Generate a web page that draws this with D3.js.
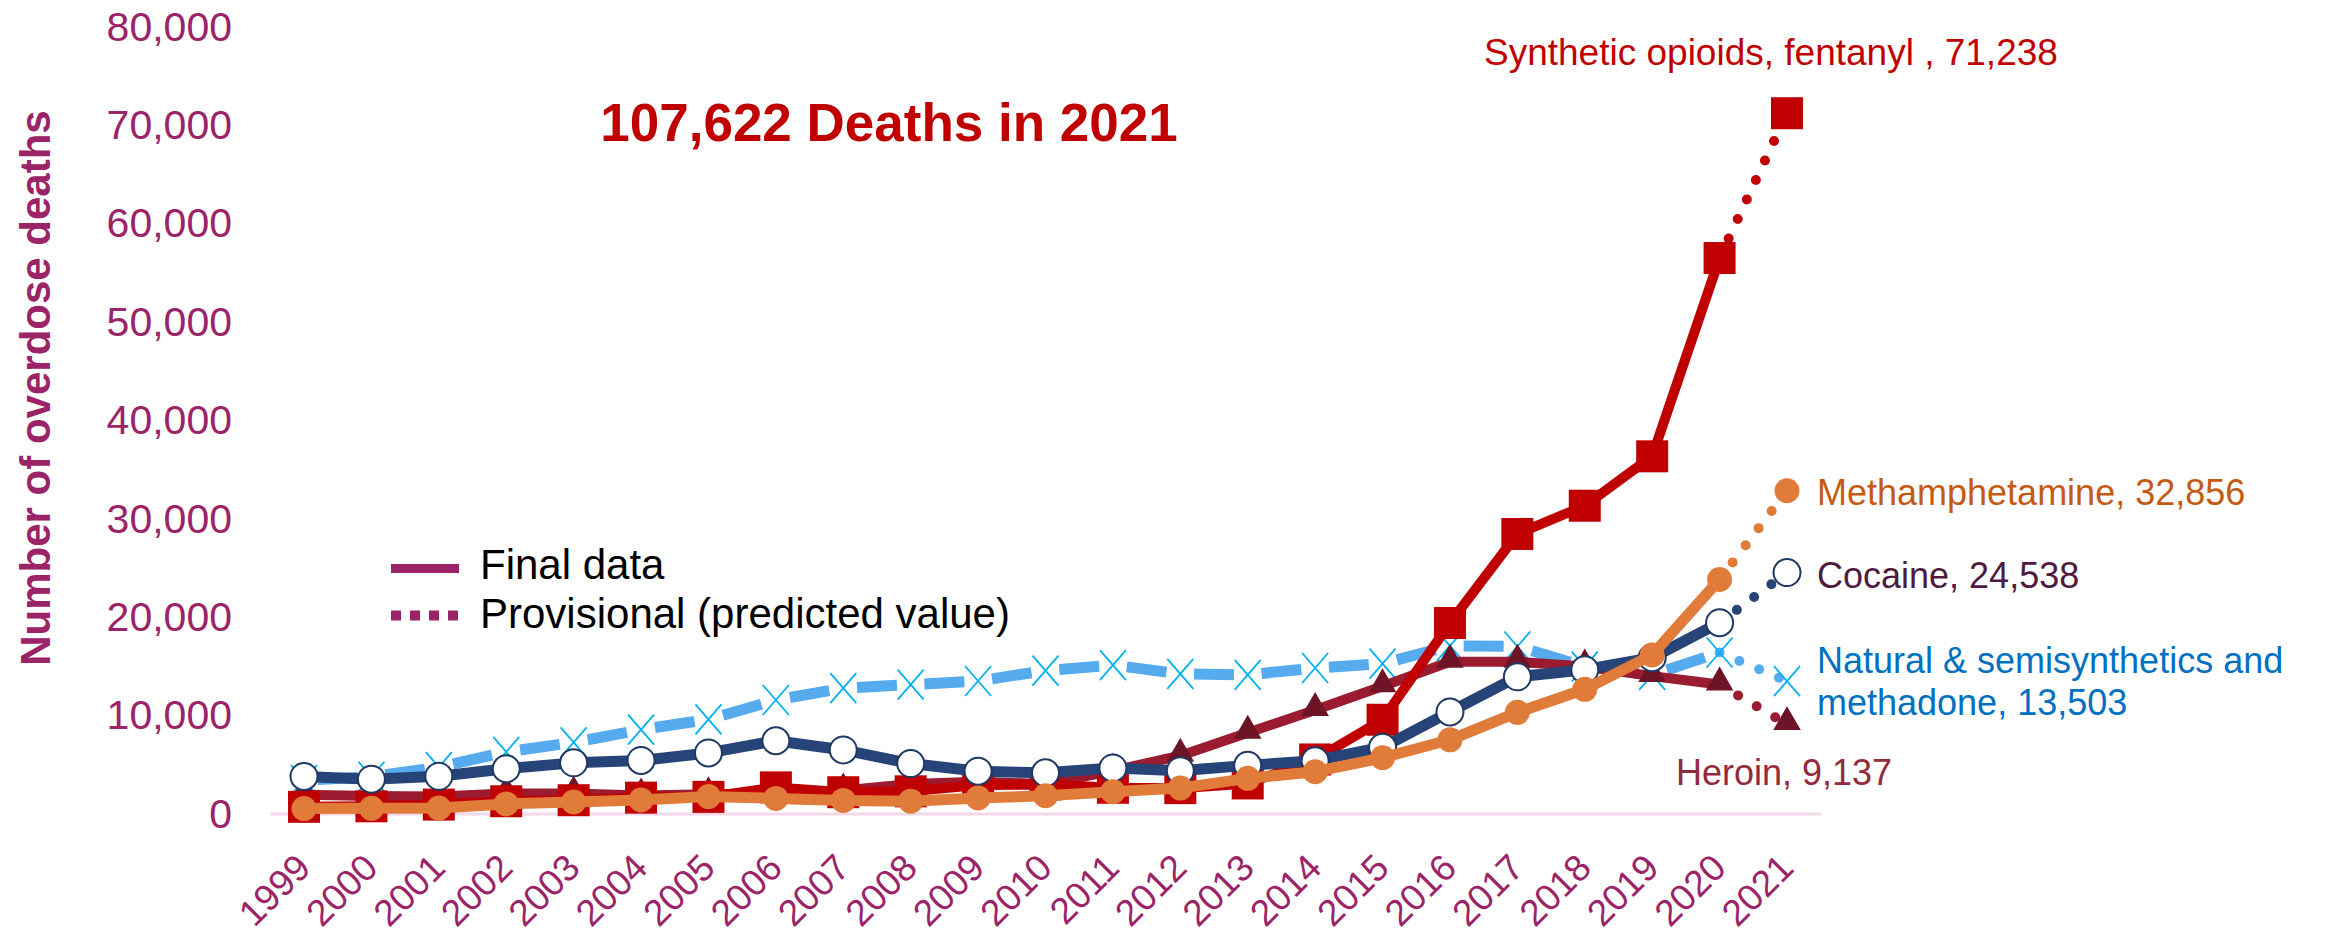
<!DOCTYPE html>
<html>
<head>
<meta charset="utf-8">
<script src="https://cdn.jsdelivr.net/npm/d3@7"></script>
<style>
  body { margin: 0; background: #fff; }
  svg { display: block; }
  text { font-family: "Liberation Sans", Arial, sans-serif; }
</style>
</head>
<body>
<div id="chart"></div>
<script>
// Data: overdose deaths by drug, 1999-2021 (2021 = provisional)
const years = ["1999","2000","2001","2002","2003","2004","2005","2006","2007","2008","2009","2010",
               "2011","2012","2013","2014","2015","2016","2017","2018","2019","2020","2021"];

const synthetic = [730, 782, 957, 1295, 1400, 1664, 1742, 2707, 2213, 2306, 2946, 3007,
                   2666, 2628, 3105, 5544, 9580, 19413, 28466, 31335, 36359, 56516, 71238];
const heroin    = [1960, 1842, 1779, 2089, 2080, 1878, 2009, 2088, 2399, 3041, 3278, 3036,
                   4397, 5925, 8257, 10574, 12989, 15469, 15482, 14996, 14019, 13165, 9137];
const cocaine   = [3822, 3544, 3833, 4599, 5199, 5443, 6208, 7448, 6512, 5129, 4350, 4183,
                   4681, 4404, 4944, 5415, 6784, 10375, 13942, 14666, 15883, 19447, 24538];
const meth      = [547, 578, 604, 1025, 1217, 1425, 1772, 1584, 1378, 1302, 1632, 1854,
                   2266, 2635, 3627, 4298, 5716, 7542, 10333, 12676, 16167, 23837, 32856];
const natural   = [3442, 3785, 4770, 6308, 7280, 8577, 9612, 11589, 12796, 13149, 13523, 14583,
                   15140, 14240, 14145, 14838, 15281, 17087, 17029, 14975, 14139, 16416, 13503];

const yTicks = [0, 10000, 20000, 30000, 40000, 50000, 60000, 70000, 80000];

const W = 2326, H = 938;
const purple = "#9B2367";

const svg = d3.select("#chart").append("svg")
  .attr("width", W)
  .attr("height", H);

const x = d3.scalePoint().domain(years).range([304, 1787]);
const y = d3.scaleLinear().domain([0, 80000]).range([814, 27]);
const step = x.step();

// baseline
svg.append("line")
  .attr("x1", x(years[0]) - step / 2)
  .attr("x2", x(years[years.length - 1]) + step / 2)
  .attr("y1", y(0)).attr("y2", y(0))
  .attr("stroke", "#F4D8E8")
  .attr("stroke-width", 3);

// y axis
const yAxis = svg.append("g")
  .attr("transform", "translate(232,0)")
  .call(d3.axisLeft(y).tickValues(yTicks).tickFormat(d3.format(",")).tickSize(0).tickPadding(0));
yAxis.select(".domain").remove();
yAxis.selectAll("text")
  .attr("font-size", 41)
  .attr("font-family", "Liberation Sans, Arial, sans-serif")
  .attr("fill", purple);

// x axis
const xAxis = svg.append("g")
  .attr("transform", "translate(0,870)")
  .call(d3.axisBottom(x).tickSize(0));
xAxis.select(".domain").remove();
xAxis.selectAll("text")
  .attr("x", 0).attr("y", 0).attr("dy", 0)
  .attr("transform", "translate(8,0) rotate(-45)")
  .attr("text-anchor", "end")
  .attr("font-size", 37)
  .attr("font-family", "Liberation Sans, Arial, sans-serif")
  .attr("fill", purple);

// y title
svg.append("text")
  .attr("transform", "translate(50,388) rotate(-90)")
  .attr("text-anchor", "middle")
  .attr("font-size", 42)
  .attr("font-weight", "bold")
  .attr("fill", purple)
  .text("Number of overdose deaths");

const line = d3.line()
  .x(d => x(d.year))
  .y(d => y(d.value));

function toPoints(values) {
  return values.map((v, i) => ({ year: years[i], value: v }));
}

function drawMarkers(g, pts, type, color) {
  if (type === "square") {
    g.selectAll(".m").data(pts).enter().append("rect")
      .attr("x", d => x(d.year) - 16).attr("y", d => y(d.value) - 16)
      .attr("width", 32).attr("height", 32)
      .attr("fill", color);
  } else if (type === "ring") {
    g.selectAll(".m").data(pts).enter().append("circle")
      .attr("cx", d => x(d.year)).attr("cy", d => y(d.value))
      .attr("r", 13.5)
      .attr("fill", "#fff").attr("stroke", "#1F3864").attr("stroke-width", 2);
  } else if (type === "dot") {
    g.selectAll(".m").data(pts).enter().append("circle")
      .attr("cx", d => x(d.year)).attr("cy", d => y(d.value))
      .attr("r", 12.5)
      .attr("fill", color);
  } else if (type === "triangle") {
    g.selectAll(".m").data(pts).enter().append("path")
      .attr("transform", d => "translate(" + x(d.year) + "," + (y(d.value) - 2) + ")")
      .attr("d", d3.symbol(d3.symbolTriangle, 330))
      .attr("fill", color);
  } else if (type === "cross") {
    g.selectAll(".m").data(pts).enter().append("path")
      .attr("transform", d => "translate(" + x(d.year) + "," + y(d.value) + ")")
      .attr("d", "M-13,-15L13,15M-13,15L13,-15")
      .attr("fill", "none")
      .attr("stroke", color).attr("stroke-width", 1.8);
  }
}

function drawSeries(cfg) {
  const pts = toPoints(cfg.values);
  const fin = pts.slice(0, pts.length - 1);
  const prov = pts.slice(pts.length - 2);
  const g = svg.append("g");

  if (cfg.dashed) {
    // one centred dash per segment, gaps at the markers
    const segs = d3.pairs(fin);
    g.selectAll(".seg").data(segs).enter().append("path")
      .attr("d", d => line(d))
      .attr("fill", "none")
      .attr("stroke", cfg.color)
      .attr("stroke-width", cfg.width)
      .attr("stroke-dasharray", d => {
        const dx = x(d[1].year) - x(d[0].year), dy = y(d[1].value) - y(d[0].value);
        const L = Math.hypot(dx, dy);
        return "0," + ((L - 40) / 2) + ",40," + L;
      });
  } else {
    g.append("path")
      .attr("d", line(fin))
      .attr("fill", "none")
      .attr("stroke", cfg.color)
      .attr("stroke-width", cfg.width)
      .attr("stroke-linejoin", "round");
  }

  // provisional dotted segment
  g.append("path")
    .attr("d", line(prov))
    .attr("fill", "none")
    .attr("stroke", cfg.dotColor || cfg.color)
    .attr("stroke-width", 10)
    .attr("stroke-linecap", "round")
    .attr("stroke-dasharray", "0,21.5");

  drawMarkers(g, pts, cfg.marker, cfg.markerColor || cfg.color);
}

drawSeries({ values: natural, color: "#56ABEE", width: 11, dashed: true, marker: "cross", markerColor: "#00B0F0" });
drawSeries({ values: heroin, color: "#9B1C31", width: 10, marker: "triangle", markerColor: "#6D1526" });
drawSeries({ values: synthetic, color: "#C00000", width: 10, marker: "square" });
drawSeries({ values: cocaine, color: "#264478", width: 11, marker: "ring" });
drawSeries({ values: meth, color: "#E07B39", width: 11, marker: "dot" });

// title
svg.append("text")
  .attr("x", 889).attr("y", 141)
  .attr("text-anchor", "middle")
  .attr("font-size", 53)
  .attr("font-weight", "bold")
  .attr("fill", "#C00000")
  .text("107,622 Deaths in 2021");

// end labels
const last = years[years.length - 1];
const labelX = x(last) + 30;

svg.append("text")
  .attr("x", x(last) - 303).attr("y", y(synthetic[22]) - 48)
  .attr("font-size", 37).attr("fill", "#C00000")
  .text("Synthetic opioids, fentanyl , 71,238");

svg.append("text")
  .attr("x", labelX).attr("y", y(meth[22]) + 14)
  .attr("font-size", 36).attr("fill", "#C55A11")
  .text("Methamphetamine, 32,856");

svg.append("text")
  .attr("x", labelX).attr("y", y(cocaine[22]) + 15)
  .attr("font-size", 36).attr("fill", "#4E1A3D")
  .text("Cocaine, 24,538");

const nat = svg.append("text")
  .attr("font-size", 36).attr("fill", "#0070C0");
nat.append("tspan").attr("x", labelX).attr("y", y(natural[22]) - 8).text("Natural & semisynthetics and");
nat.append("tspan").attr("x", labelX).attr("y", y(natural[22]) + 34).text("methadone, 13,503");

svg.append("text")
  .attr("x", x(last) - 111).attr("y", y(heroin[22]) + 61)
  .attr("font-size", 36).attr("fill", "#952A3C")
  .text("Heroin, 9,137");

// legend
const legend = svg.append("g");
legend.append("line")
  .attr("x1", 391).attr("x2", 459).attr("y1", 568.5).attr("y2", 568.5)
  .attr("stroke", purple).attr("stroke-width", 9);
legend.append("line")
  .attr("x1", 391).attr("x2", 459).attr("y1", 615.5).attr("y2", 615.5)
  .attr("stroke", purple).attr("stroke-width", 10)
  .attr("stroke-dasharray", "10,9");
legend.append("text")
  .attr("x", 480).attr("y", 579)
  .attr("font-size", 42).attr("fill", "#000")
  .text("Final data");
legend.append("text")
  .attr("x", 480).attr("y", 628)
  .attr("font-size", 42).attr("fill", "#000")
  .text("Provisional (predicted value)");
</script>
</body>
</html>
